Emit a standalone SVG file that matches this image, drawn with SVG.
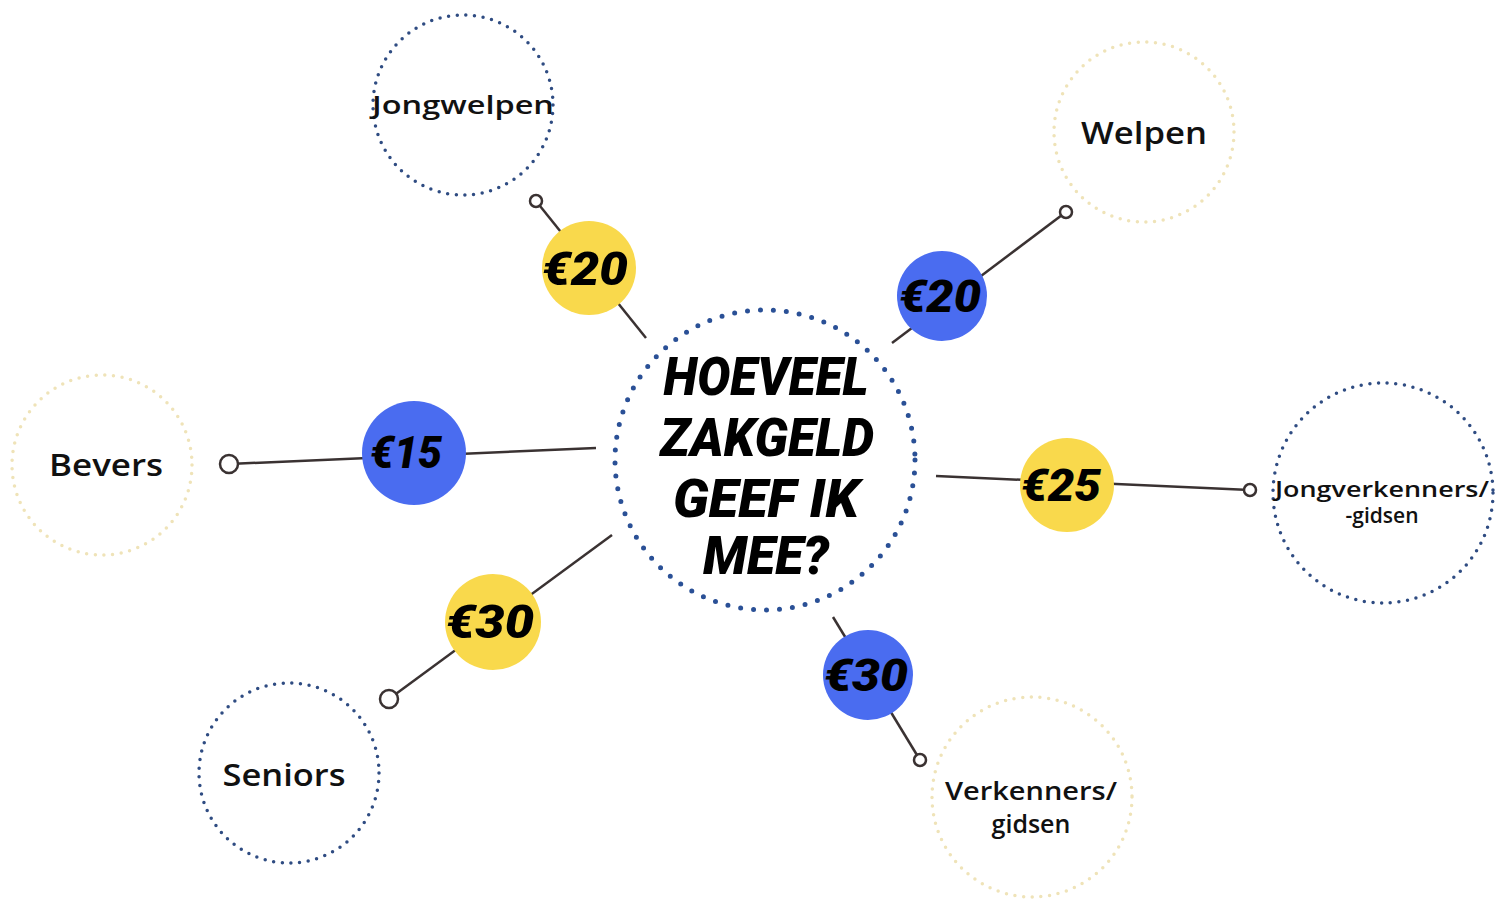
<svg xmlns="http://www.w3.org/2000/svg" width="1507" height="899" viewBox="0 0 1507 899">
<style>
.dotB{fill:none;stroke:#2f4c82;stroke-width:3.5;stroke-linecap:round;stroke-dasharray:0 8.7}
.dotY{fill:none;stroke:#efe3b8;stroke-width:3.5;stroke-linecap:round;stroke-dasharray:0 8.7}
.center{fill:none;stroke:#2a5096;stroke-width:5;stroke-linecap:round;stroke-dasharray:0 13}
.lbl{font-family:"Open Sans","Liberation Sans",sans-serif;font-weight:600;fill:#111;text-anchor:middle}
.conn{stroke:#3a3232;stroke-width:2.5;fill:none}
.end{fill:#fff;stroke:#3a3232;stroke-width:2.5}
.by{fill:#f9d94c}
.bb{fill:#4a6cf0}
.price{font-family:"Roboto","Liberation Sans",sans-serif;font-weight:900;font-style:italic;fill:#000;text-anchor:middle}
.title{font-family:"Roboto","Liberation Sans",sans-serif;font-weight:900;font-style:italic;fill:#000;text-anchor:middle}
</style>
<rect width="1507" height="899" fill="#fff"/>
<g id="connectors">
  <line class="conn" x1="536" y1="201" x2="646" y2="338"/>
  <circle class="end" cx="536" cy="201" r="6"/>
  <line class="conn" x1="1066" y1="212" x2="892" y2="343"/>
  <circle class="end" cx="1066" cy="212" r="6"/>
  <line class="conn" x1="229" y1="464" x2="596" y2="448"/>
  <circle class="end" cx="229" cy="464" r="9"/>
  <line class="conn" x1="936" y1="476" x2="1250" y2="490"/>
  <circle class="end" cx="1250" cy="490" r="6"/>
  <line class="conn" x1="389" y1="699" x2="612" y2="535"/>
  <circle class="end" cx="389" cy="699" r="9"/>
  <line class="conn" x1="833" y1="617" x2="920" y2="760"/>
  <circle class="end" cx="920" cy="760" r="6"/>
</g>
<g id="center">
  <circle class="center" cx="765" cy="460" r="150"/>
  <text class="title" x="766" y="395" font-size="54" textLength="205" lengthAdjust="spacingAndGlyphs">HOEVEEL</text>
  <text class="title" x="767" y="456" font-size="54" textLength="214" lengthAdjust="spacingAndGlyphs">ZAKGELD</text>
  <text class="title" x="766" y="517" font-size="54" textLength="186" lengthAdjust="spacingAndGlyphs">GEEF IK</text>
  <text class="title" x="766" y="574" font-size="54" textLength="126" lengthAdjust="spacingAndGlyphs">MEE?</text>
</g>
<g id="node-jongwelpen">
  <circle class="dotB" cx="463" cy="105" r="90"/>
  <text class="lbl" x="463" y="114" font-size="25" textLength="182" lengthAdjust="spacingAndGlyphs">Jongwelpen</text>
</g>
<g id="node-welpen">
  <circle class="dotY" cx="1144" cy="132" r="90"/>
  <text class="lbl" x="1144" y="144" font-size="31" textLength="126" lengthAdjust="spacingAndGlyphs">Welpen</text>
</g>
<g id="node-bevers">
  <circle class="dotY" cx="102" cy="465" r="90"/>
  <text class="lbl" x="106" y="476" font-size="30" textLength="114" lengthAdjust="spacingAndGlyphs">Bevers</text>
</g>
<g id="node-jongverkenners">
  <circle class="dotB" cx="1383" cy="493" r="110"/>
  <text class="lbl" x="1382" y="497" font-size="21" textLength="214" lengthAdjust="spacingAndGlyphs">Jongverkenners/</text>
  <text class="lbl" x="1382" y="523" font-size="21">-gidsen</text>
</g>
<g id="node-seniors">
  <circle class="dotB" cx="289" cy="773" r="90"/>
  <text class="lbl" x="284" y="786" font-size="31" textLength="123" lengthAdjust="spacingAndGlyphs">Seniors</text>
</g>
<g id="node-verkenners">
  <circle class="dotY" cx="1032" cy="797" r="100"/>
  <text class="lbl" x="1031" y="800" font-size="25" textLength="172" lengthAdjust="spacingAndGlyphs">Verkenners/</text>
  <text class="lbl" x="1031" y="833" font-size="25">gidsen</text>
</g>
<g id="badge-jongwelpen">
  <circle class="by" cx="589" cy="268" r="47"/>
  <text class="price" x="585" y="285" font-size="46" textLength="86" lengthAdjust="spacingAndGlyphs">€20</text>
</g>
<g id="badge-welpen">
  <circle class="bb" cx="942" cy="296" r="45"/>
  <text class="price" x="940" y="312" font-size="44" textLength="82" lengthAdjust="spacingAndGlyphs">€20</text>
</g>
<g id="badge-bevers">
  <circle class="bb" cx="414" cy="453" r="52"/>
  <text class="price" x="406" y="468" font-size="44" textLength="72" lengthAdjust="spacingAndGlyphs">€15</text>
</g>
<g id="badge-jongverkenners">
  <circle class="by" cx="1067" cy="485" r="47"/>
  <text class="price" x="1061" y="501" font-size="44" textLength="80" lengthAdjust="spacingAndGlyphs">€25</text>
</g>
<g id="badge-seniors">
  <circle class="by" cx="493" cy="622" r="48"/>
  <text class="price" x="490" y="638" font-size="46" textLength="88" lengthAdjust="spacingAndGlyphs">€30</text>
</g>
<g id="badge-verkenners">
  <circle class="bb" cx="868" cy="675" r="45"/>
  <text class="price" x="866" y="691" font-size="44" textLength="84" lengthAdjust="spacingAndGlyphs">€30</text>
</g>
</svg>
